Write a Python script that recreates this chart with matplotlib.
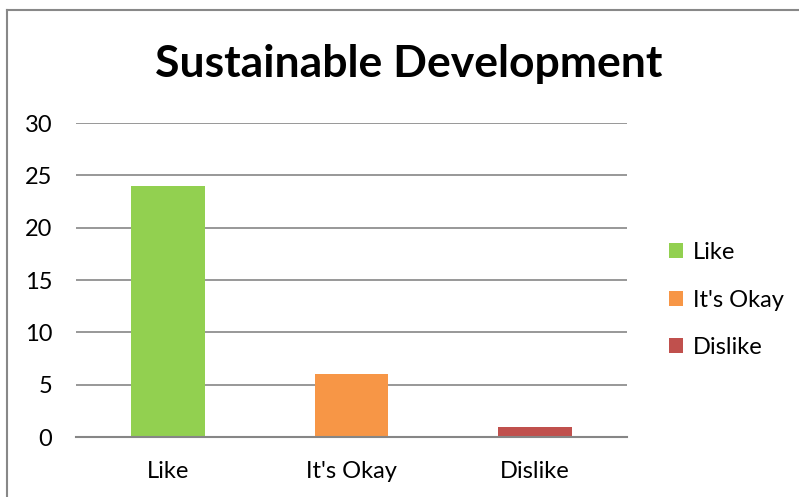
import matplotlib.pyplot as plt
from matplotlib.lines import Line2D

categories = ['Like', "It's Okay", 'Dislike']
counts = [24, 6, 1]
colors = ['#92D050', '#F79646', '#C0504D']
yticks = [0, 5, 10, 15, 20, 25, 30]

plt.rcParams['font.family'] = ['Lato', 'DejaVu Sans']

fig = plt.figure(figsize=(7.99, 4.97), dpi=100)
ax = fig.add_axes([0.0951, 0.1207, 0.6896, 0.6318])

x = range(len(categories))
bars = []
for i, (c, v, col) in enumerate(zip(categories, counts, colors)):
    b = ax.bar(i, v, width=0.40, color=col, label=c, zorder=3)
    bars.append(b)

ax.set_xlim(-0.5, 2.5)
ax.set_ylim(0, 30)
ax.set_yticks(yticks)
ax.set_xticks(list(x))
ax.set_xticklabels(categories, fontsize=17)
ax.tick_params(axis='y', labelsize=17, length=0, pad=17)
ax.tick_params(axis='x', length=0, pad=17)
ax.grid(axis='y', color='#868686', linewidth=1.2, zorder=0)
for s in ['top', 'right', 'left']:
    ax.spines[s].set_visible(False)
ax.spines['bottom'].set_color('#868686')
ax.spines['bottom'].set_linewidth(1.5)
ax.spines['bottom'].set_zorder(4)

fig.text(0.511, 0.872, 'Sustainable Development', ha='center', va='center',
         fontsize=32, fontweight='bold')

fig.legend(handles=[b[0] for b in bars], labels=categories,
           loc='center left', bbox_to_anchor=(0.811, 0.396), frameon=False,
           fontsize=17, handlelength=0.6, handleheight=0.6,
           handletextpad=0.4, labelspacing=1.12)

# outer chart border (left and top visible)
fig.add_artist(Line2D([0.0088, 0.0088], [0, 0.98], color='#888888', linewidth=1.5))
fig.add_artist(Line2D([0.0088, 1.0], [0.98, 0.98], color='#888888', linewidth=1.5))

plt.savefig('out.png', dpi=100)
